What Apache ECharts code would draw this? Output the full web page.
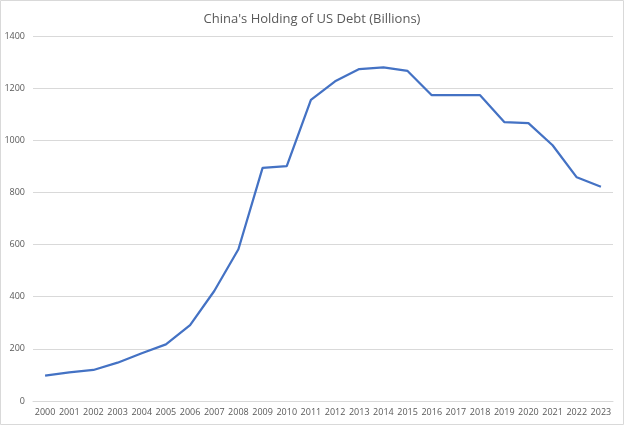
<!DOCTYPE html>
<html><head><meta charset="utf-8">
<script src="https://cdn.jsdelivr.net/npm/echarts@6/dist/echarts.min.js"></script>
<style>html,body{margin:0;padding:0;background:#fff}#c{width:624px;height:425px}</style>
</head><body><div id="c"></div>
<script>
const years = ['2000','2001','2002','2003','2004','2005','2006','2007','2008','2009','2010','2011','2012','2013','2014','2015','2016','2017','2018','2019','2020','2021','2022','2023'];
const holdings = [97,110,119,147,183,217,291,422,582,894,901,1155,1226,1273,1280,1266,1173,1173,1173,1070,1066,981,858,822];
const yTicks = {min:0, max:1400, interval:200};
const chart = echarts.init(document.getElementById('c'));
chart.setOption({
  animation:false,
  title:{text:"China's Holding of US Debt (Billions)",left:'center',top:8,textStyle:{fontFamily:'Open Sans',fontSize:13,fontWeight:'normal',color:'#595959'}},
  graphic:[{type:'rect',silent:true,z:100,shape:{x:0.5,y:0.5,width:623,height:424},style:{fill:'none',stroke:'#d9d9d9',lineWidth:1}}],
  grid:{left:33,right:11,top:36,bottom:24,containLabel:false,outerBoundsMode:'none'},
  xAxis:{type:'category',data:years,boundaryGap:true,axisLine:{lineStyle:{color:'#d9d9d9'}},axisTick:{show:false},axisLabel:{color:'#595959',fontSize:9,fontFamily:'Open Sans',margin:7,interval:0}},
  yAxis:{type:'value',min:yTicks.min,max:yTicks.max,interval:yTicks.interval,axisLine:{show:false},axisTick:{show:false},splitLine:{lineStyle:{color:'#d9d9d9'}},axisLabel:{color:'#595959',fontSize:9,fontFamily:'Open Sans',margin:8,formatter:v=>String(v)}},
  series:[{type:'line',data:holdings,symbol:'none',lineStyle:{color:'#4472C4',width:2.25},itemStyle:{color:'#4472C4'}}]
});
</script></body></html>
